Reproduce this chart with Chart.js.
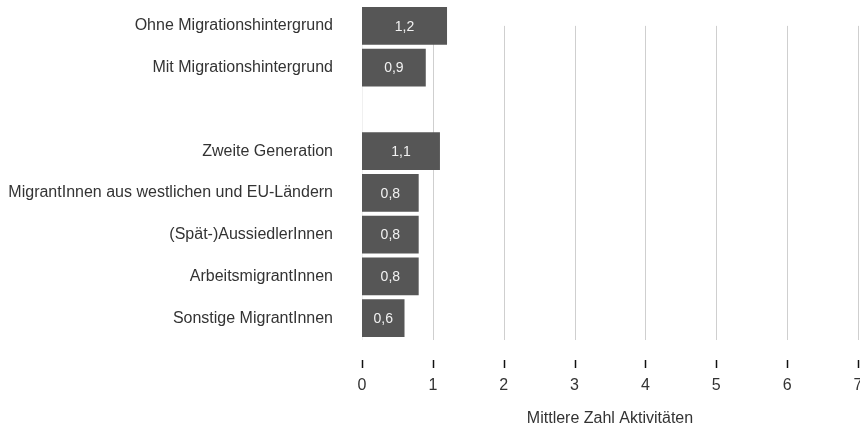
<!DOCTYPE html>
<html>
<head>
<meta charset="utf-8">
<script src="https://cdn.jsdelivr.net/npm/chart.js@4/dist/chart.umd.min.js"></script>
<style>
    html, body { margin: 0; padding: 0; background: #fff; }
    #wrap { width: 860px; height: 430px; }
</style>
</head>
<body>
<div id="wrap"><canvas id="chart"></canvas></div>
<script>
    const groupLabels = [
        'Ohne Migrationshintergrund',
        'Mit Migrationshintergrund',
        '',
        'Zweite Generation',
        'MigrantInnen aus westlichen und EU-Ländern',
        '(Spät-)AussiedlerInnen',
        'ArbeitsmigrantInnen',
        'Sonstige MigrantInnen'
    ];
    const meanActivities = [1.2, 0.9, null, 1.1, 0.8, 0.8, 0.8, 0.6];
    const xTicks = [0, 1, 2, 3, 4, 5, 6, 7];
    const xTitle = 'Mittlere Zahl Aktivitäten';

    const fontFamily = '"Liberation Sans", Arial, sans-serif';

    // gridlines start at the first category centre, tick marks sit below a gap
    const gridAndTicks = {
        id: 'gridAndTicks',
        beforeDatasetsDraw(chart) {
            const { ctx, chartArea, scales } = chart;
            const top = scales.y.getPixelForValue(0);
            ctx.save();
            xTicks.forEach(v => {
                const px = Math.round(scales.x.getPixelForValue(v)) + 0.5;
                ctx.strokeStyle = v === 0 ? '#f0f0f0' : '#cfcfcf';
                ctx.lineWidth = 1;
                ctx.beginPath();
                ctx.moveTo(px, top);
                ctx.lineTo(px, chartArea.bottom + 1);
                ctx.stroke();
                ctx.strokeStyle = '#111';
                ctx.lineWidth = 1.5;
                ctx.beginPath();
                ctx.moveTo(px, chartArea.bottom + 21);
                ctx.lineTo(px, chartArea.bottom + 29);
                ctx.stroke();
            });
            ctx.restore();
        },
        afterDatasetsDraw(chart) {
            const { ctx } = chart;
            const meta = chart.getDatasetMeta(0);
            ctx.save();
            ctx.fillStyle = '#f2f2f2';
            ctx.font = '14px ' + fontFamily;
            ctx.textAlign = 'center';
            ctx.textBaseline = 'middle';
            meta.data.forEach((bar, i) => {
                const v = meanActivities[i];
                if (v === null) return;
                const txt = v.toLocaleString('de-DE', { minimumFractionDigits: 1 });
                ctx.fillText(txt, (bar.base + bar.x) / 2, bar.y + 1);
            });
            ctx.restore();
        }
    };

    new Chart(document.getElementById('chart'), {
        type: 'bar',
        data: {
            labels: groupLabels,
            datasets: [{
                data: meanActivities,
                backgroundColor: '#565656',
                borderWidth: 0,
                barPercentage: 0.91,
                categoryPercentage: 1
            }]
        },
        options: {
            indexAxis: 'y',
            responsive: true,
            maintainAspectRatio: false,
            animation: false,
            layout: { padding: { top: 5, right: 0, bottom: 0, left: 0 } },
            plugins: {
                legend: { display: false },
                tooltip: { enabled: false }
            },
            scales: {
                x: {
                    min: 0,
                    max: 7,
                    afterFit(scale) {
                        scale.height = 91;
                        scale.paddingRight = 2;
                        scale.paddingLeft = 0;
                    },
                    afterBuildTicks(scale) { scale.ticks = xTicks.map(v => ({ value: v })); },
                    grid: { display: false, drawTicks: false },
                    border: { display: false },
                    ticks: {
                        padding: 37,
                        maxRotation: 0,
                        color: '#333',
                        font: { family: fontFamily, size: 16 }
                    },
                    title: {
                        display: true,
                        text: xTitle,
                        color: '#333',
                        padding: { top: 13, bottom: 2 },
                        font: { family: fontFamily, size: 16 }
                    }
                },
                y: {
                    afterFit(scale) {
                        scale.width = 362;
                        scale.paddingTop = 0;
                        scale.paddingBottom = 0;
                    },
                    grid: { display: false, drawTicks: false },
                    border: { display: false },
                    ticks: {
                        padding: 29,
                        color: '#333',
                        font: { family: fontFamily, size: 16 }
                    }
                }
            }
        },
        plugins: [gridAndTicks]
    });
</script>
</body>
</html>
